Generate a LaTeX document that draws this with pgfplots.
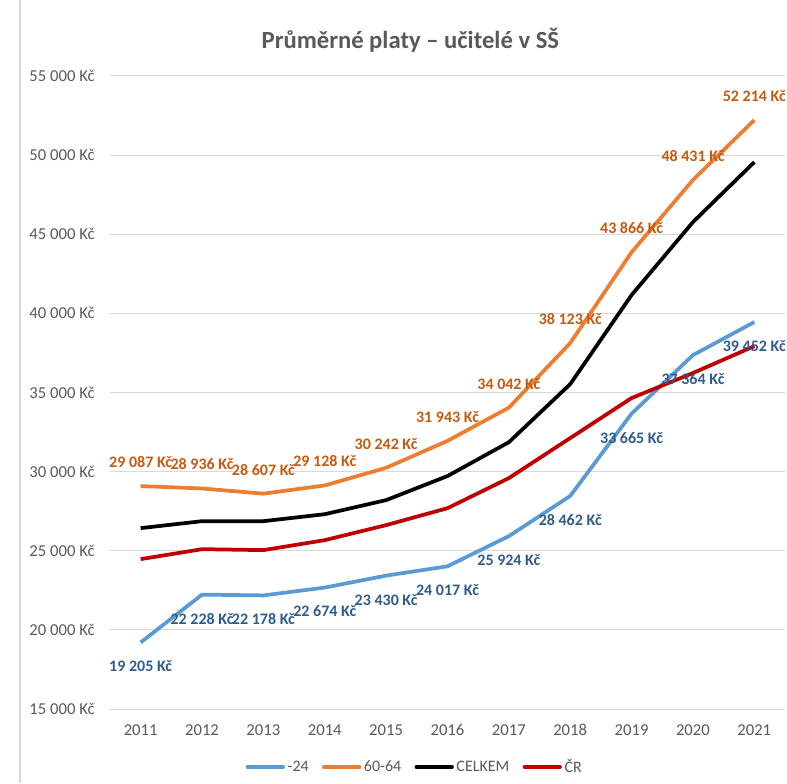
\documentclass[border=0pt]{standalone}
\usepackage{fontspec}
\setmainfont{Carlito}
\usepackage{pgfplots}
\pgfplotsset{compat=1.18}

\definecolor{cyoung}{HTML}{5B9BD5}
\definecolor{cold}{HTML}{ED7D31}
\definecolor{ccr}{HTML}{C00000}
\definecolor{lblold}{HTML}{C55A11}
\definecolor{lblyoung}{HTML}{2F5C8F}
\definecolor{txtgray}{HTML}{595959}
\definecolor{gridgray}{HTML}{D9D9D9}

\begin{document}
\begin{tikzpicture}
% canvas and chart frame edge
\path[use as bounding box] (-82.5pt,-55.5pt) rectangle (507.75pt,531.75pt);
\draw[gridgray, line width=0.8pt] (-67.5pt,-55.5pt) -- (-67.5pt,531.75pt);

\begin{axis}[
    scale only axis,
    width=506.25pt, height=474.75pt,
    xmin=2010.5, xmax=2021.5,
    ymin=15000, ymax=55000,
    xtick={2011,2012,...,2021},
    ytick={15000,20000,...,55000},
    yticklabels={15 000 Kč,20 000 Kč,25 000 Kč,30 000 Kč,35 000 Kč,40 000 Kč,45 000 Kč,50 000 Kč,55 000 Kč},
    scaled y ticks=false,
    /pgf/number format/1000 sep={},
    /pgf/number format/assume math mode=true,
    major tick length=0pt,
    axis line style={draw=none},
    ymajorgrids,
    grid style={gridgray, line width=0.75pt},
    tick label style={color=txtgray, font=\fontsize{12.5}{14}\selectfont},
    yticklabel style={xshift=-8pt},
    xticklabel style={yshift=-8pt},
    legend style={at={(0.452,-0.0916)}, anchor=center, legend columns=4, draw=none,
        font=\fontsize{12}{14}\selectfont, text=txtgray,
        /tikz/every even column/.append style={column sep=8pt}},
    legend image code/.code={\draw[#1, line width=2.4pt, line cap=round] (0pt,0pt) -- (27pt,0pt);},
    every axis plot/.append style={line width=2.8pt, line join=round},
    title={\textbf{Průměrné platy – učitelé v SŠ}},
    title style={at={(0.445,1)}, anchor=south, yshift=8pt, color=txtgray, font=\fontsize{18.5}{21}\selectfont},
]

\addplot[cyoung, mark=none] coordinates {
    (2011,19205) (2012,22228) (2013,22178) (2014,22674) (2015,23430) (2016,24017)
    (2017,25924) (2018,28462) (2019,33665) (2020,37364) (2021,39452)
};
\addlegendentry{-24}

\addplot[cold, mark=none] coordinates {
    (2011,29087) (2012,28936) (2013,28607) (2014,29128) (2015,30242) (2016,31943)
    (2017,34042) (2018,38123) (2019,43866) (2020,48431) (2021,52214)
};
\addlegendentry{60-64}

\addplot[black, mark=none] coordinates {
    (2011,26430) (2012,26870) (2013,26870) (2014,27310) (2015,28200) (2016,29720)
    (2017,31860) (2018,35530) (2019,41160) (2020,45770) (2021,49560)
};
\addlegendentry{CELKEM}

\addplot[ccr, mark=none] coordinates {
    (2011,24470) (2012,25100) (2013,25040) (2014,25670) (2015,26620) (2016,27690)
    (2017,29590) (2018,32120) (2019,34650) (2020,36230) (2021,37930)
};
\addlegendentry{ČR}

% data labels drawn last so they sit on top of the lines
\addplot[draw=none, mark=none, forget plot,
    nodes near coords, point meta=explicit symbolic,
    every node near coord/.append style={anchor=center, yshift=-18pt,
        font=\bfseries\fontsize{12}{14}\selectfont, text=lblyoung}]
coordinates {
    (2011,19205) [19 205 Kč] (2012,22228) [22 228 Kč] (2013,22178) [22 178 Kč]
    (2014,22674) [22 674 Kč] (2015,23430) [23 430 Kč] (2016,24017) [24 017 Kč]
    (2017,25924) [25 924 Kč] (2018,28462) [28 462 Kč] (2019,33665) [33 665 Kč]
    (2020,37364) [37 364 Kč] (2021,39452) [39 452 Kč]
};

\addplot[draw=none, mark=none, forget plot,
    nodes near coords, point meta=explicit symbolic,
    every node near coord/.append style={anchor=center, yshift=18pt,
        font=\bfseries\fontsize{12}{14}\selectfont, text=lblold}]
coordinates {
    (2011,29087) [29 087 Kč] (2012,28936) [28 936 Kč] (2013,28607) [28 607 Kč]
    (2014,29128) [29 128 Kč] (2015,30242) [30 242 Kč] (2016,31943) [31 943 Kč]
    (2017,34042) [34 042 Kč] (2018,38123) [38 123 Kč] (2019,43866) [43 866 Kč]
    (2020,48431) [48 431 Kč] (2021,52214) [52 214 Kč]
};

\end{axis}
\end{tikzpicture}
\end{document}
